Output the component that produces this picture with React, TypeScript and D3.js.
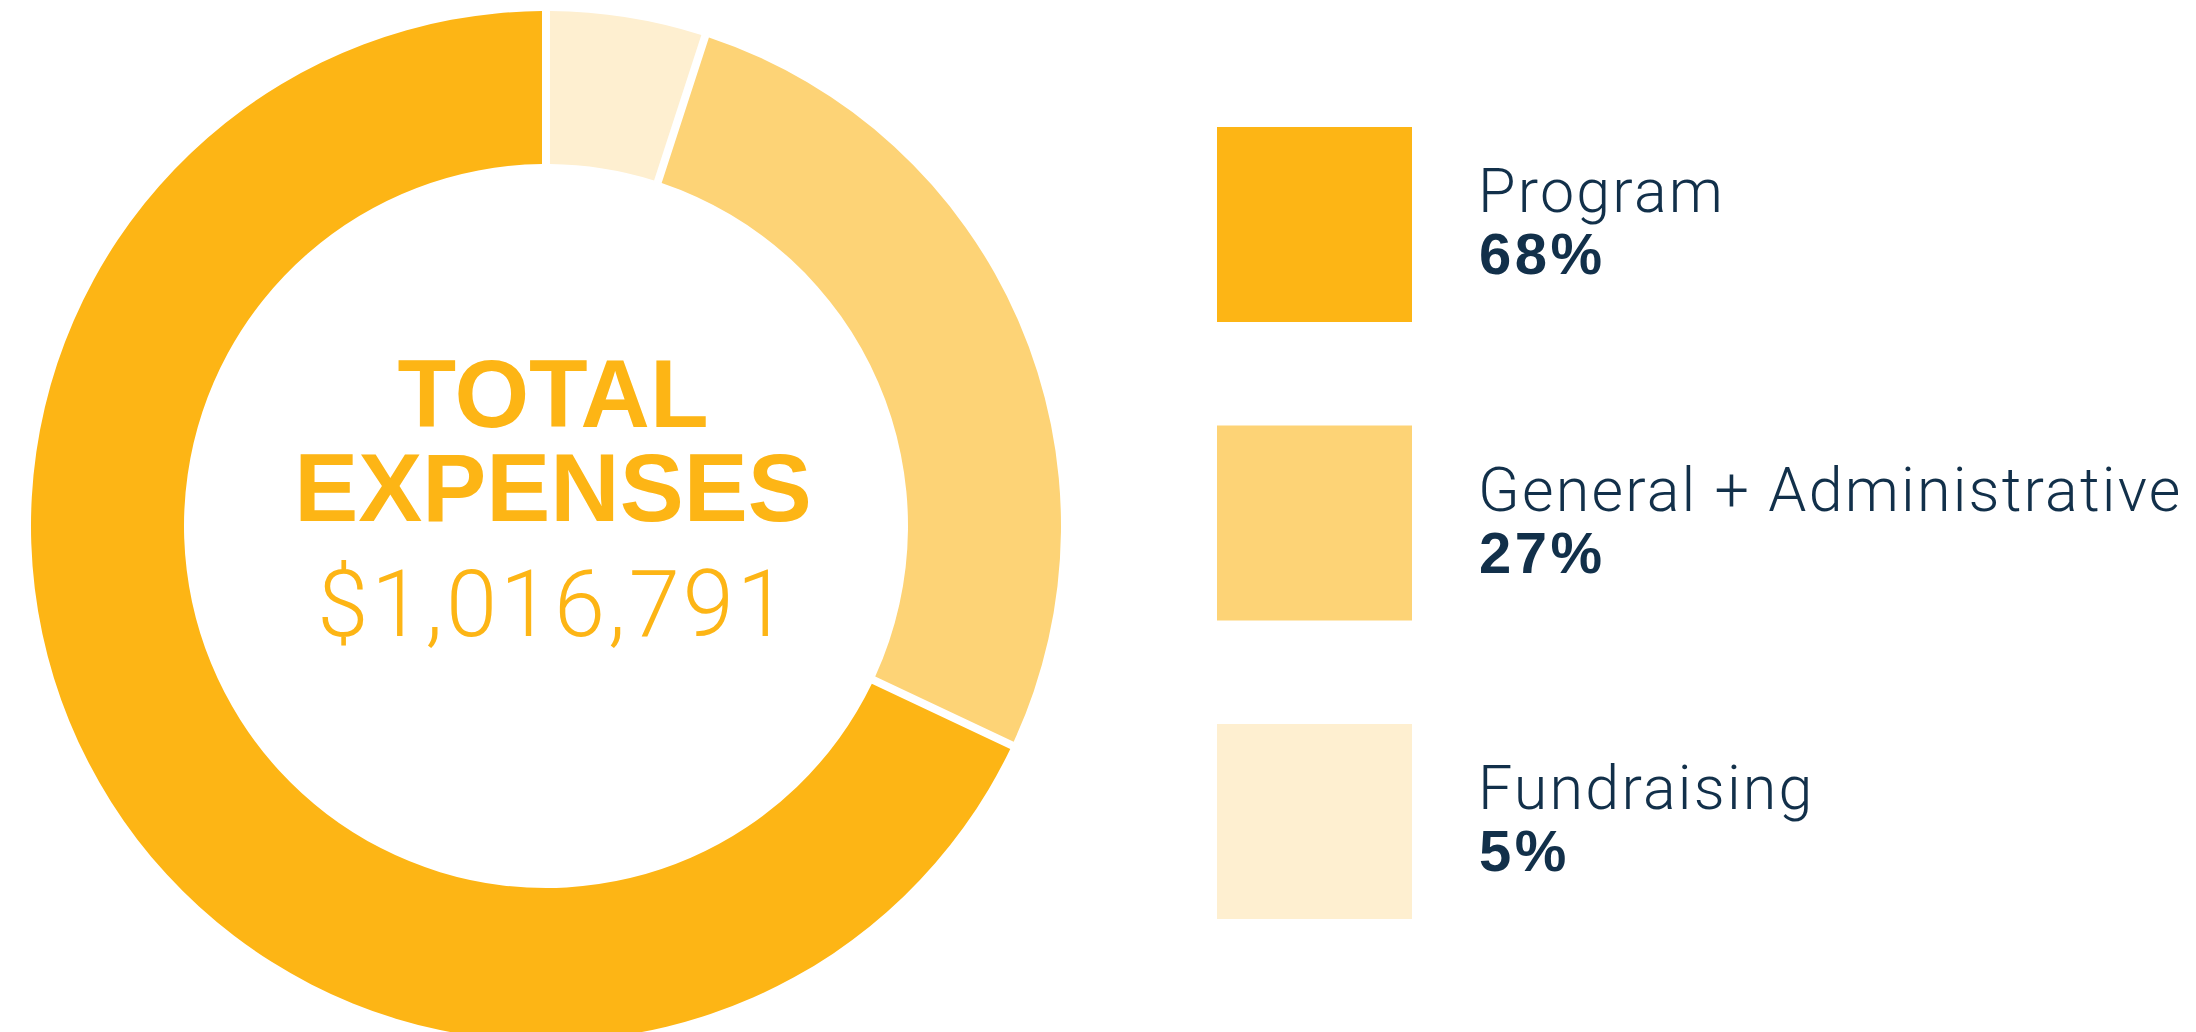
import { useEffect } from "react";
import * as d3 from "d3";

const categories = ["Program", "General + Administrative", "Fundraising"];
const percents = [68, 27, 5];
const colors = ["#FDB515", "#FDD376", "#FEEFD0"];
const totalLabel = ["TOTAL", "EXPENSES"];
const totalValue = 1016791;

const width = 2196;
const height = 1032;

const App = () => {
  useEffect(() => {
    document.body.style.margin = "0";
  }, []);

  const cx = 546;
  const cy = 526;
  const outerR = 515;
  const innerR = 362;

  const slices = categories.map((c, i) => ({ name: c, value: percents[i], color: colors[i] }));

  // pie runs clockwise from 12 o'clock: Fundraising, G+A, then Program
  const pie = d3
    .pie<(typeof slices)[0]>()
    .sort(null)
    .value((d) => d.value);
  const arcs = pie([...slices].reverse());

  const arc = d3
    .arc<d3.PieArcDatum<(typeof slices)[0]>>()
    .innerRadius(innerR)
    .outerRadius(outerR)
    .padAngle(8 / outerR)
    .padRadius(outerR);

  const legendY = d3
    .scaleBand<string>()
    .domain(categories)
    .range([127, 127 + 2 * 298.5 + 195])
    .paddingInner((298.5 - 195) / 298.5)
    .paddingOuter(0);

  const money = d3.format("$,");

  return (
    <svg width={width} height={height} style={{ display: "block" }}>
      <g transform={`translate(${cx},${cy})`}>
        {arcs.map((a) => (
          <path key={a.data.name} d={arc(a) || ""} fill={a.data.color} />
        ))}
      </g>

      <g fill="#FDB515" textAnchor="middle">
        <text
          x={553}
          y={427}
          fontFamily="'Liberation Sans', Arial, sans-serif"
          fontWeight={700}
          fontSize={96}
        >
          {totalLabel[0]}
        </text>
        <text
          x={553}
          y={521}
          fontFamily="'Liberation Sans', Arial, sans-serif"
          fontWeight={700}
          fontSize={96}
        >
          {totalLabel[1]}
        </text>
        <text
          x={554}
          y={636}
          fontFamily="Roboto, sans-serif"
          fontWeight={300}
          fontSize={92}
          letterSpacing={3}
        >
          {money(totalValue)}
        </text>
      </g>

      {slices.map((s) => {
        const y0 = legendY(s.name) || 0;
        return (
          <g key={s.name}>
            <rect x={1217} y={y0} width={195} height={legendY.bandwidth()} fill={s.color} />
            <text
              x={1478}
              y={y0 + 85}
              fill="#12304A"
              fontFamily="Roboto, sans-serif"
              fontWeight={300}
              fontSize={61}
              letterSpacing={2.2}
            >
              {s.name}
            </text>
            <text
              x={1479}
              y={y0 + 147}
              fill="#12304A"
              fontFamily="'Liberation Sans', Arial, sans-serif"
              fontWeight={700}
              fontSize={58}
              letterSpacing={3.5}
            >
              {s.value}%
            </text>
          </g>
        );
      })}
    </svg>
  );
};

export default App;
